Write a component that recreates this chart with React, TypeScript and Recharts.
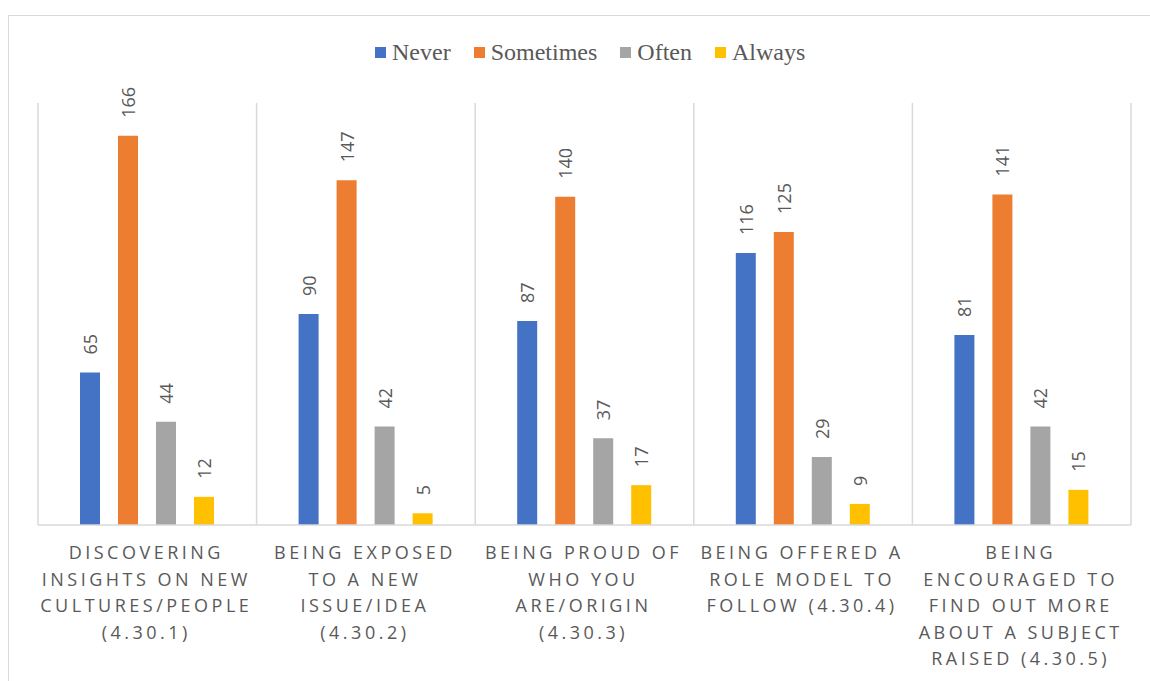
import { BarChart, Bar, XAxis, YAxis, CartesianGrid, LabelList } from 'recharts';

const categories = [
  'DISCOVERING|INSIGHTS ON NEW|CULTURES/PEOPLE|(4.30.1)',
  'BEING EXPOSED|TO A NEW|ISSUE/IDEA|(4.30.2)',
  'BEING PROUD OF|WHO YOU|ARE/ORIGIN|(4.30.3)',
  'BEING OFFERED A|ROLE MODEL TO|FOLLOW (4.30.4)',
  'BEING|ENCOURAGED TO|FIND OUT MORE|ABOUT A SUBJECT|RAISED (4.30.5)',
];

const never = [65, 90, 87, 116, 81];
const sometimes = [166, 147, 140, 125, 141];
const often = [44, 42, 37, 29, 42];
const always = [12, 5, 17, 9, 15];

const SERIES = [
  { key: 'never', name: 'Never', color: '#4472C4' },
  { key: 'sometimes', name: 'Sometimes', color: '#ED7D31' },
  { key: 'often', name: 'Often', color: '#A5A5A5' },
  { key: 'always', name: 'Always', color: '#FFC000' },
];

const data = categories.map((label, i) => ({
  label,
  never: never[i],
  sometimes: sometimes[i],
  often: often[i],
  always: always[i],
}));

const TEXT = '#595959';
const LABEL_FONT = '"Open Sans", sans-serif';

function CategoryTick({ x, y, payload }: any) {
  const lines = String(payload.value).split('|');
  return (
    <text
      x={x}
      y={y}
      textAnchor="middle"
      fill={TEXT}
      fontFamily={LABEL_FONT}
      fontSize={18}
      letterSpacing={3.5}
    >
      {lines.map((line, i) => (
        <tspan key={i} x={x - 1} y={y + 34 + i * 26.5}>
          {line}
        </tspan>
      ))}
    </text>
  );
}

function ValueLabel({ x, y, width, value }: any) {
  const cx = x + width / 2;
  const ty = y - 18;
  return (
    <text
      x={cx}
      y={ty}
      transform={`rotate(-90 ${cx} ${ty})`}
      textAnchor="start"
      dominantBaseline="central"
      fill={TEXT}
      fontFamily={LABEL_FONT}
      fontSize={18}
    >
      {value}
    </text>
  );
}

function ChartLegend() {
  return (
    <div
      style={{
        position: 'absolute',
        left: 375,
        top: 37,
        display: 'flex',
        alignItems: 'center',
        fontFamily: '"Liberation Serif", serif',
        fontSize: 24,
        lineHeight: '30px',
        color: TEXT,
      }}
    >
      {SERIES.map((s) => (
        <div key={s.key} style={{ display: 'flex', alignItems: 'center', marginRight: 23 }}>
          <span style={{ width: 11, height: 11, background: s.color, display: 'inline-block', marginRight: 6 }} />
          <span>{s.name}</span>
        </div>
      ))}
    </div>
  );
}

export default function App() {
  return (
    <div style={{ position: 'absolute', left: 0, top: 0, width: 1150, height: 681, background: '#fff', overflow: 'hidden' }}>
      <div
        style={{
          position: 'absolute',
          left: 8,
          top: 15,
          width: 1160,
          height: 700,
          border: '1.5px solid #D9D9D9',
          boxSizing: 'border-box',
        }}
      />
      <BarChart
        width={1150}
        height={681}
        data={data}
        margin={{ top: 103, right: 19, left: 38, bottom: 0 }}
        barSize={20}
        barGap={18}
        style={{ position: 'absolute', left: 0, top: 0 }}
      >
        <CartesianGrid
          horizontal={false}
          stroke="#D9D9D9"
          strokeWidth={1.5}
          verticalCoordinatesGenerator={({ offset }: any) =>
            categories.map((_, i) => offset.left + (i * offset.width) / categories.length).concat(offset.left + offset.width)
          }
        />
        <XAxis
          dataKey="label"
          interval={0}
          height={156}
          tickLine={false}
          tickSize={0}
          tickMargin={0}
          axisLine={{ stroke: '#D9D9D9', strokeWidth: 1.5 }}
          tick={<CategoryTick />}
        />
        <YAxis hide domain={[0, 180]} />
        {SERIES.map((s) => (
          <Bar key={s.key} dataKey={s.key} name={s.name} fill={s.color} isAnimationActive={false}>
            <LabelList dataKey={s.key} content={<ValueLabel />} />
          </Bar>
        ))}
      </BarChart>
      <ChartLegend />
    </div>
  );
}
